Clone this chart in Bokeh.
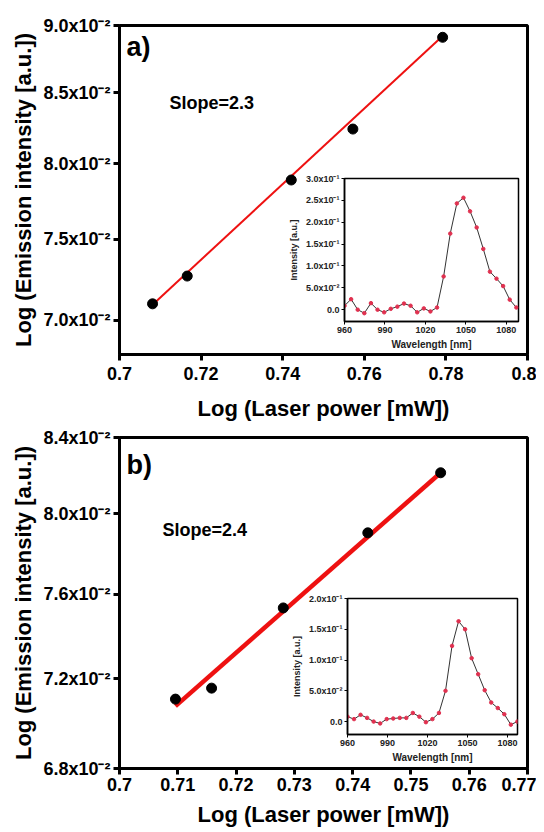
from bokeh.plotting import figure
from bokeh.models import FixedTicker, CustomJSTickFormatter, Label, Range1d
from bokeh.layouts import column
from bokeh.embed import file_html
from bokeh.resources import INLINE

FONT = "Liberation Sans"
SUP_M2 = "x10\u207b\u00b2"
SUP_M1 = "x10\u207b\u00b9"

# ---------------- panel a data ----------------
a_power = [0.7081, 0.7166, 0.7421, 0.7572, 0.7792]
a_emission = [0.0710, 0.0727, 0.0789, 0.0824, 0.0891]
a_fit_x = [0.7081, 0.7792]
a_fit_y = [0.07095, 0.0892]
a_xticks = [0.70, 0.72, 0.74, 0.76, 0.78, 0.80]
a_xlabels = ["0.7", "0.72", "0.74", "0.76", "0.78", "0.8"]
a_yticks = [0.070, 0.075, 0.080, 0.085, 0.090]
a_ylabels = ["7.0" + SUP_M2, "7.5" + SUP_M2, "8.0" + SUP_M2, "8.5" + SUP_M2, "9.0" + SUP_M2]

# ---------------- panel b data ----------------
b_power = [0.7096, 0.7158, 0.7281, 0.7426, 0.7551]
b_emission = [0.07108, 0.07158, 0.07534, 0.07904, 0.08213]
b_fit_x = [0.7096, 0.7551]
b_fit_y = [0.07076, 0.08213]
b_xticks = [0.70, 0.71, 0.72, 0.73, 0.74, 0.75, 0.76, 0.77]
b_xlabels = ["0.7", "0.71", "0.72", "0.73", "0.74", "0.75", "0.76", "0.77"]
b_yticks = [0.068, 0.072, 0.076, 0.080, 0.084]
b_ylabels = ["6.8" + SUP_M2, "7.2" + SUP_M2, "7.6" + SUP_M2, "8.0" + SUP_M2, "8.4" + SUP_M2]

# ---------------- inset spectra ----------------
wavelength = [960.0, 964.9, 969.8, 974.7, 979.6, 984.5, 989.4, 994.3, 999.2,
              1004.1, 1009.0, 1013.9, 1018.8, 1023.7, 1028.6, 1033.5, 1038.4,
              1043.3, 1048.2, 1053.1, 1058.0, 1062.9, 1067.8, 1072.7, 1077.6,
              1082.5, 1087.4]
spec_a = [0.009, 0.024, 0.000, -0.008, 0.015, 0.000, -0.006, 0.002, 0.007,
          0.014, 0.009, -0.006, 0.003, -0.004, 0.005, 0.076, 0.174, 0.243,
          0.256, 0.225, 0.188, 0.139, 0.087, 0.071, 0.054, 0.023, 0.005]
spec_b = [0.008, 0.004, 0.011, 0.006, 0.000, -0.003, 0.004, 0.005, 0.006,
          0.006, 0.014, 0.008, -0.001, 0.004, 0.014, 0.050, 0.123, 0.163,
          0.150, 0.103, 0.077, 0.051, 0.031, 0.022, 0.012, -0.005, 0.000]
inset_xticks = [960, 990, 1020, 1050, 1080]
inset_xlabels = ["960", "990", "1020", "1050", "1080"]
ia_yticks = [0.0, 0.05, 0.10, 0.15, 0.20, 0.25, 0.30]
ia_ylabels = ["0.0", "5.0" + SUP_M2, "1.0" + SUP_M1, "1.5" + SUP_M1, "2.0" + SUP_M1, "2.5" + SUP_M1, "3.0" + SUP_M1]
ib_yticks = [0.0, 0.05, 0.10, 0.15, 0.20]
ib_ylabels = ["0.0", "5.0" + SUP_M2, "1.0" + SUP_M1, "1.5" + SUP_M1, "2.0" + SUP_M1]

FMT_CODE = """
const i = vals.findIndex(v => Math.abs(v - tick) < 1e-9);
return i >= 0 ? labs[i] : "";
"""


def fmt(vals, labs):
    return CustomJSTickFormatter(args=dict(vals=vals, labs=labs), code=FMT_CODE)


def main_fig(xr, yr, xt, xl, yt, yl, height, b_top, b_bottom, x_st, x_als,
             px, py, fx, fy, fit_w, tag, slope, tag_y, slope_x, slope_y):
    p = figure(width=528, height=height, x_range=Range1d(*xr), y_range=Range1d(*yr),
               y_axis_type="log", output_backend="svg", toolbar_location=None,
               min_border_left=110, min_border_right=9,
               min_border_top=b_top, min_border_bottom=b_bottom)
    p.grid.visible = False
    p.outline_line_color = "black"
    p.outline_line_width = 3
    for ax in (p.xaxis[0], p.yaxis[0]):
        ax.axis_line_width = 3
        ax.major_tick_line_width = 3
        ax.major_tick_out = 6
        ax.major_tick_in = 0
        ax.minor_tick_line_color = None
        ax.major_label_text_font = FONT
        ax.major_label_text_font_style = "bold"
        ax.major_label_text_font_size = "18px"
        ax.major_label_text_color = "black"
        ax.axis_label_text_font = FONT
        ax.axis_label_text_font_style = "bold"
        ax.axis_label_text_font_size = "22px"
        ax.axis_label_text_color = "black"
    p.xaxis.ticker = FixedTicker(ticks=xt, minor_ticks=[])
    p.xaxis.formatter = fmt(xt, xl)
    p.yaxis.ticker = FixedTicker(ticks=yt, minor_ticks=[])
    p.yaxis.formatter = fmt(yt, yl)
    p.xaxis.axis_label = "Log (Laser power [mW])"
    p.yaxis.axis_label = "Log (Emission intensity [a.u.])"
    p.xaxis.major_label_standoff = x_st
    p.yaxis.major_label_standoff = 3
    p.xaxis.axis_label_standoff = x_als
    p.yaxis.axis_label_standoff = 4

    p.line(fx, fy, color="#ee1111", line_width=fit_w)
    p.scatter(px, py, size=10, color="black")

    p.add_layout(Label(x=7, y=tag_y, x_units="screen", y_units="screen", text=tag,
                       text_font=FONT, text_font_size="27px", text_font_style="bold",
                       text_baseline="middle", text_color="black"))
    p.add_layout(Label(x=slope_x, y=slope_y, x_units="screen", y_units="screen", text=slope,
                       text_font=FONT, text_font_size="18px", text_font_style="bold",
                       text_baseline="middle", text_color="black"))
    return p


def inset_fig(xr, yr, yt, yl, vals, width, height, bt, bb, margin):
    # left/right borders are aligned with the main figures of the column (110 / 9)
    q = figure(width=width, height=height, x_range=Range1d(*xr), y_range=Range1d(*yr),
               output_backend="svg", toolbar_location=None,
               min_border_left=110, min_border_right=9, min_border_top=bt, min_border_bottom=bb,
               border_fill_color=None, background_fill_color="white", margin=margin)
    q.grid.visible = False
    q.outline_line_color = "black"
    q.outline_line_width = 1.5
    for ax in (q.xaxis[0], q.yaxis[0]):
        ax.axis_line_width = 1.5
        ax.major_tick_line_width = 1
        ax.major_tick_out = 3
        ax.major_tick_in = 0
        ax.minor_tick_line_color = None
        ax.major_label_text_font = FONT
        ax.major_label_text_font_style = "bold"
        ax.major_label_text_font_size = "9px"
        ax.major_label_text_color = "#222222"
        ax.axis_label_text_font = FONT
        ax.axis_label_text_font_style = "bold"
        ax.axis_label_text_color = "#222222"
        ax.major_label_standoff = 2
    q.xaxis.ticker = FixedTicker(ticks=inset_xticks, minor_ticks=[])
    q.xaxis.formatter = fmt(inset_xticks, inset_xlabels)
    q.yaxis.ticker = FixedTicker(ticks=yt, minor_ticks=[])
    q.yaxis.formatter = fmt(yt, yl)
    q.xaxis.axis_label = "Wavelength [nm]"
    q.yaxis.axis_label = "Intensity [a.u.]"
    q.xaxis.axis_label_text_font_size = "10px"
    q.yaxis.axis_label_text_font_size = "9px"
    q.xaxis.axis_label_standoff = 3
    q.yaxis.axis_label_standoff = 4

    q.line(wavelength, vals, color="#333333", line_width=1)
    q.scatter(wavelength, vals, size=3.5, color="#e0304f")
    return q


fa = main_fig((0.7, 0.8), (0.068, 0.090), a_xticks, a_xlabels, a_yticks, a_ylabels,
              417, 17, 71, 6, 13, a_power, a_emission, a_fit_x, a_fit_y, 2,
              "a)", "Slope=2.3", 308, 50, 252)
ia = inset_fig((960, 1089), (-0.027, 0.30), ia_yticks, ia_ylabels, spec_a,
               294, 184, 10, 29, (-257, 0, 73, 225))
fb = main_fig((0.7, 0.77), (0.068, 0.084), b_xticks, b_xlabels, b_yticks, b_ylabels,
              406, 12, 63, 3, 8, b_power, b_emission, b_fit_x, b_fit_y, 4.5,
              "b)", "Slope=2.4", 304, 43, 239)
ib = inset_fig((960, 1087.5), (-0.021, 0.20), ib_yticks, ib_ylabels, spec_b,
               290, 177, 10, 30, (-243, 0, 66, 228))

layout = column(fa, ia, fb, ib, margin=(8, 0, 0, 8))
open("out.html", "w").write(file_html(layout, INLINE))
